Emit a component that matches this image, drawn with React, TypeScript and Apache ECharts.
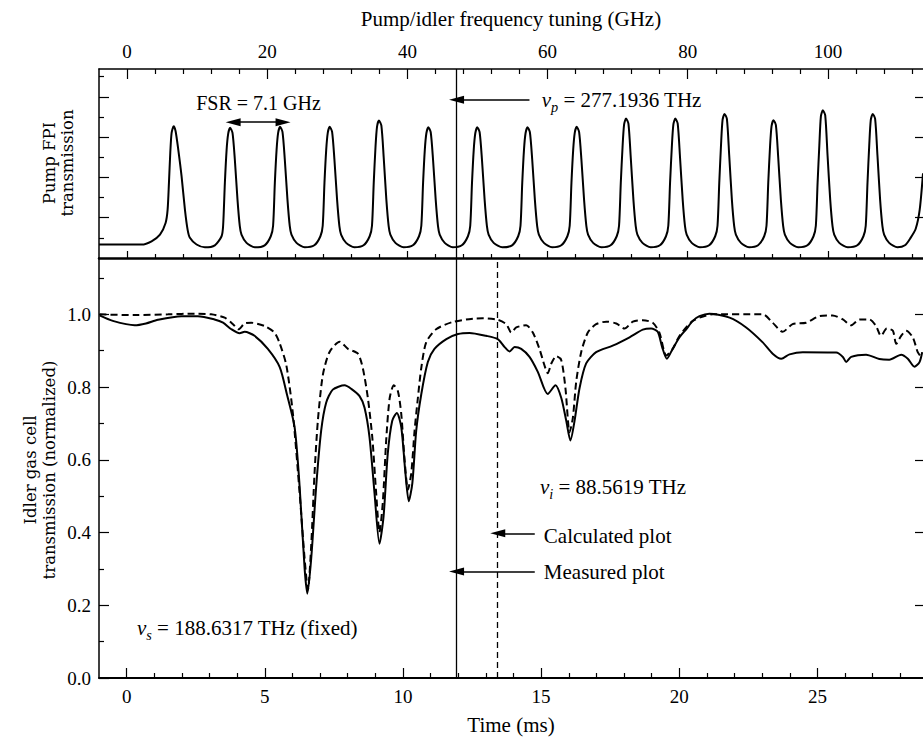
import React, { useEffect, useRef } from "react";
import * as echarts from "echarts";

// ---------- axis ranges & ticks ----------
const ghzRange = [-4, 113.57];
const msRange = [-1, 28.82];
const topYRange = [0, 0.938];
const botYRange = [0, 1.155];

const ghzMajorTicks = [0, 20, 40, 60, 80, 100];
const ghzMinorTicks = [4, 8, 12, 16, 24, 28, 32, 36, 44, 48, 52, 56, 64, 68, 72, 76, 84, 88, 92, 96, 104, 108, 112];
const msMajorTicks = [0, 5, 10, 15, 20, 25];
const msMinorTicks = [1, 2, 3, 4, 6, 7, 8, 9, 11, 12, 13, 14, 16, 17, 18, 19, 21, 22, 23, 24, 26, 27, 28];
const topYMajorTicks = [0.2, 0.4, 0.6, 0.8];
const topYMinorTicks = [0.1, 0.3, 0.5, 0.7, 0.9];
const botYMajorTicks = [0, 0.2, 0.4, 0.6, 0.8, 1.0];
const botYMinorTicks = [0.1, 0.3, 0.5, 0.7, 0.9, 1.1];

// ---------- data ----------
// Pump FPI transmission vs frequency tuning (GHz)
const pumpFpi: [number, number][] = [
  [-4, 0.067], [2.1, 0.067], [3.5, 0.083], [4.7, 0.116], [5.5, 0.174], [5.79, 0.24], [5.98, 0.373], [6.17, 0.522], [6.36, 0.621], [6.65, 0.654], [6.93, 0.629], [7.31, 0.538], [7.78, 0.406], [8.26, 0.24], [8.64, 0.141], [8.97, 0.1], [9.92, 0.067], [11.11, 0.053], [12.53, 0.063], [13.49, 0.108],
  [13.71, 0.16], [13.96, 0.373], [14.21, 0.538], [14.43, 0.616], [14.71, 0.646], [15.05, 0.621], [15.38, 0.489], [15.76, 0.29], [16.09, 0.158], [16.33, 0.116], [17.05, 0.075], [18.23, 0.053], [19.64, 0.063], [20.51, 0.108],
  [20.84, 0.16], [21.09, 0.373], [21.34, 0.538], [21.56, 0.621], [21.84, 0.651], [22.18, 0.626], [22.51, 0.489], [22.89, 0.29], [23.22, 0.158], [23.46, 0.116], [24.18, 0.075], [25.36, 0.053], [26.72, 0.063], [27.59, 0.108],
  [27.92, 0.16], [28.17, 0.373], [28.42, 0.538], [28.64, 0.621], [28.92, 0.651], [29.26, 0.626], [29.59, 0.489], [29.97, 0.29], [30.3, 0.158], [30.54, 0.116], [31.26, 0.075], [32.44, 0.053], [33.75, 0.063], [34.62, 0.108],
  [34.95, 0.16], [35.2, 0.373], [35.45, 0.55], [35.67, 0.652], [35.95, 0.682], [36.29, 0.657], [36.62, 0.5], [37.0, 0.29], [37.33, 0.158], [37.57, 0.116], [38.29, 0.075], [39.47, 0.053], [40.79, 0.063], [41.66, 0.108],
  [41.99, 0.16], [42.24, 0.373], [42.49, 0.538], [42.71, 0.619], [42.99, 0.649], [43.33, 0.624], [43.66, 0.489], [44.04, 0.29], [44.37, 0.158], [44.61, 0.116], [45.33, 0.075], [46.48, 0.053], [47.77, 0.063], [48.64, 0.108],
  [48.97, 0.16], [49.22, 0.373], [49.47, 0.538], [49.69, 0.619], [49.97, 0.649], [50.31, 0.624], [50.64, 0.489], [51.02, 0.29], [51.35, 0.158], [51.59, 0.116], [52.31, 0.075], [53.55, 0.053], [54.94, 0.063], [55.81, 0.108],
  [56.14, 0.16], [56.39, 0.373], [56.64, 0.538], [56.86, 0.619], [57.14, 0.649], [57.48, 0.624], [57.81, 0.489], [58.19, 0.29], [58.52, 0.158], [58.76, 0.116], [59.48, 0.075], [60.65, 0.053], [61.96, 0.063], [62.83, 0.108],
  [63.16, 0.16], [63.41, 0.373], [63.66, 0.538], [63.88, 0.621], [64.16, 0.651], [64.5, 0.626], [64.83, 0.489], [65.21, 0.29], [65.54, 0.158], [65.78, 0.116], [66.5, 0.075], [67.68, 0.053], [69.0, 0.063], [69.87, 0.108],
  [70.2, 0.16], [70.45, 0.373], [70.7, 0.55], [70.92, 0.662], [71.2, 0.692], [71.54, 0.667], [71.87, 0.5], [72.25, 0.29], [72.58, 0.158], [72.82, 0.116], [73.54, 0.075], [74.72, 0.053], [76.03, 0.063], [76.9, 0.108],
  [77.23, 0.16], [77.48, 0.373], [77.73, 0.55], [77.95, 0.662], [78.23, 0.692], [78.57, 0.667], [78.9, 0.5], [79.28, 0.29], [79.61, 0.158], [79.85, 0.116], [80.57, 0.075], [81.74, 0.053], [83.05, 0.063], [83.92, 0.108],
  [84.25, 0.16], [84.5, 0.373], [84.75, 0.56], [84.97, 0.685], [85.25, 0.715], [85.59, 0.69], [85.92, 0.51], [86.3, 0.29], [86.63, 0.158], [86.87, 0.116], [87.59, 0.075], [88.75, 0.053], [90.04, 0.063], [90.91, 0.108],
  [91.24, 0.16], [91.49, 0.373], [91.74, 0.55], [91.96, 0.654], [92.24, 0.684], [92.58, 0.659], [92.91, 0.5], [93.29, 0.29], [93.62, 0.158], [93.86, 0.116], [94.58, 0.075], [95.76, 0.053], [97.08, 0.063], [97.95, 0.108],
  [98.28, 0.16], [98.53, 0.373], [98.78, 0.56], [99.0, 0.703], [99.28, 0.733], [99.62, 0.708], [99.95, 0.51], [100.33, 0.29], [100.66, 0.158], [100.9, 0.116], [101.62, 0.075], [102.84, 0.053], [104.2, 0.063], [105.07, 0.108],
  [105.4, 0.16], [105.65, 0.373], [105.9, 0.56], [106.12, 0.685], [106.4, 0.715], [106.74, 0.69], [107.07, 0.51], [107.45, 0.29], [107.78, 0.158], [108.02, 0.116], [108.74, 0.075], [109.93, 0.053], [111.0, 0.063], [111.8, 0.1], [112.53, 0.145], [113.1, 0.24], [113.57, 0.42],
];

// Idler gas cell transmission vs time (ms)
const measuredPlot: [number, number][] = [
  [-0.98, 0.997], [-0.5, 0.982], [0.29, 0.97], [0.7, 0.975], [1.13, 0.985], [1.98, 0.995], [2.58, 0.995], [3.18, 0.986], [3.49, 0.977], [3.79, 0.959], [4.09, 0.948], [4.27, 0.952], [4.63, 0.941], [5.11, 0.905], [5.54, 0.855], [5.8, 0.78],
  [6.08, 0.689], [6.26, 0.527], [6.44, 0.302], [6.54, 0.232], [6.68, 0.329], [6.86, 0.527], [7.04, 0.68], [7.22, 0.757], [7.46, 0.793], [7.89, 0.805], [8.13, 0.795], [8.43, 0.775], [8.61, 0.743], [8.79, 0.662], [8.97, 0.509],
  [9.15, 0.369], [9.3, 0.446], [9.45, 0.617], [9.61, 0.707], [9.78, 0.729], [9.94, 0.689], [10.09, 0.563], [10.21, 0.486], [10.34, 0.536], [10.48, 0.68], [10.66, 0.779], [10.9, 0.869], [11.14, 0.905], [11.57, 0.932], [11.99, 0.946],
  [12.41, 0.949], [13.01, 0.941], [13.43, 0.932], [13.68, 0.91], [13.86, 0.898], [14.04, 0.91], [14.28, 0.905], [14.58, 0.883], [14.88, 0.842], [15.24, 0.781], [15.52, 0.805], [15.73, 0.77], [15.91, 0.707], [16.06, 0.653],
  [16.21, 0.707], [16.39, 0.797], [16.63, 0.865], [16.99, 0.896], [17.59, 0.914], [18.2, 0.937], [18.68, 0.958], [18.98, 0.961], [19.22, 0.952], [19.38, 0.91], [19.55, 0.878], [19.76, 0.905], [20.01, 0.937], [20.25, 0.959],
  [20.49, 0.982], [20.73, 0.995], [21.09, 1.002], [21.82, 0.991], [22.42, 0.964], [23.02, 0.923], [23.38, 0.892], [23.69, 0.878], [23.99, 0.89], [24.47, 0.896], [25.68, 0.895], [25.92, 0.883], [26.04, 0.869], [26.22, 0.883],
  [26.76, 0.889], [27.24, 0.877], [27.6, 0.875], [28.03, 0.889], [28.27, 0.878], [28.51, 0.856], [28.69, 0.868], [28.79, 0.896],
];

const calculatedPlot: [number, number][] = [
  [-0.98, 1.0], [0.29, 0.998], [1.5, 1.0], [2.46, 1.002], [3.06, 1.0], [3.55, 0.991], [3.85, 0.973], [4.05, 0.959], [4.27, 0.975], [4.51, 0.977], [4.99, 0.968], [5.35, 0.95], [5.54, 0.92], [5.78, 0.86],
  [6.02, 0.725], [6.26, 0.509], [6.44, 0.329], [6.56, 0.243], [6.68, 0.365], [6.8, 0.563], [6.92, 0.707], [7.1, 0.833], [7.34, 0.896], [7.71, 0.925], [8.01, 0.905], [8.37, 0.892], [8.55, 0.851], [8.73, 0.77], [8.89, 0.662],
  [9.03, 0.509], [9.15, 0.401], [9.27, 0.482], [9.4, 0.662], [9.52, 0.77], [9.67, 0.805], [9.82, 0.788], [9.94, 0.725], [10.06, 0.599], [10.18, 0.518], [10.3, 0.563], [10.42, 0.68], [10.54, 0.77], [10.66, 0.851], [10.84, 0.923],
  [11.2, 0.959], [11.8, 0.979], [12.53, 0.988], [12.89, 0.989], [13.43, 0.985], [13.74, 0.973], [13.92, 0.95], [14.1, 0.964], [14.46, 0.97], [14.7, 0.95], [14.94, 0.905], [15.12, 0.86], [15.24, 0.838], [15.37, 0.865],
  [15.55, 0.885], [15.73, 0.874], [15.88, 0.797], [16.03, 0.676], [16.15, 0.716], [16.27, 0.815], [16.45, 0.896], [16.69, 0.95], [16.99, 0.973], [17.36, 0.98], [17.72, 0.975], [18.02, 0.961], [18.32, 0.98], [18.68, 0.984],
  [19.04, 0.977], [19.28, 0.95], [19.53, 0.887], [19.76, 0.905], [20.01, 0.941], [20.49, 0.982], [21.21, 1.0], [23.02, 1.0], [23.38, 0.977], [23.74, 0.952], [24.1, 0.973], [24.59, 0.977], [25.07, 0.995], [25.55, 0.997],
  [25.92, 0.986], [26.22, 0.97], [26.52, 0.986], [26.88, 0.986], [27.12, 0.968], [27.3, 0.941], [27.51, 0.961], [27.73, 0.955], [27.85, 0.919], [28.03, 0.941], [28.21, 0.955], [28.45, 0.937], [28.63, 0.896], [28.75, 0.883],
];

// reference lines / annotations (data coordinates)
const pumpLineGhz = 47.02;
const measuredLineMs = 11.94;
const calculatedLineMs = 13.43;
const fsrArrow = [15.14, 22.26, 0.674];
const fsrText = [18.76, 0.769];
const pumpArrow = [57.42, 0.786];
const pumpText = [59.09, 0.786];
const idlerText = [14.94, 0.526];
const signalText = [0.355, 0.138];
const calcArrow = [14.77, 0.398];
const calcText = [15.08, 0.39];
const measArrow = [14.77, 0.293];
const measText = [15.08, 0.291];

const SERIF = '"Liberation Serif", "Times New Roman", serif';
const BLACK = "#000";

function nuRich(size: number) {
  return {
    n: { fontFamily: SERIF, fontStyle: "italic", fontSize: size, color: BLACK },
    s: { fontFamily: SERIF, fontStyle: "italic", fontSize: size * 0.68, color: BLACK, padding: [15, 0, 0, 0] },
    t: { fontFamily: SERIF, fontSize: size, color: BLACK },
  };
}

function textPoint(coord: number[], text: string, position: any, size = 20) {
  return {
    coord,
    symbol: "circle",
    symbolSize: 1,
    itemStyle: { color: "rgba(0,0,0,0)" },
    label: {
      show: true,
      position,
      distance: 0,
      formatter: text,
      color: BLACK,
      fontFamily: SERIF,
      fontSize: size,
      rich: nuRich(size),
    },
  };
}

const arrowHead = { symbol: "triangle", symbolSize: [8, 15] };

export default function App() {
  const ref = useRef<HTMLDivElement>(null);

  useEffect(() => {
    if (!ref.current) return;
    const chart = echarts.init(ref.current, null, { renderer: "svg" });

    const tickStyle = { color: BLACK, width: 1.2 };
    const baseAxis = {
      type: "value",
      splitLine: { show: false },
      axisLine: { show: false, onZero: false },
      axisLabel: { show: false },
    };

    const option: any = {
      animation: false,
      backgroundColor: "#fff",
      grid: [
        { left: 99, top: 69, width: 825, height: 189 },
        { left: 99, top: 258, width: 825, height: 426 },
      ],
      xAxis: [
        {
          ...baseAxis, gridIndex: 0, position: "top", min: ghzRange[0], max: ghzRange[1],
          axisLine: { show: true, onZero: false, lineStyle: { color: BLACK, width: 1.5 } },
          axisTick: { show: true, inside: true, length: 10, customValues: ghzMajorTicks, lineStyle: tickStyle },
          axisLabel: { show: true, customValues: ghzMajorTicks, color: BLACK, fontFamily: SERIF, fontSize: 19, margin: 8 },
          name: "Pump/idler frequency tuning (GHz)", nameLocation: "middle", nameGap: 40,
          nameTextStyle: { color: BLACK, fontFamily: SERIF, fontSize: 21 },
        },
        {
          ...baseAxis, gridIndex: 0, position: "top", min: ghzRange[0], max: ghzRange[1],
          axisTick: { show: true, inside: true, length: 5, customValues: ghzMinorTicks, lineStyle: tickStyle },
        },
        {
          ...baseAxis, gridIndex: 0, position: "bottom", min: ghzRange[0], max: ghzRange[1],
          axisLine: { show: true, onZero: false, lineStyle: { color: BLACK, width: 2.5 } },
          axisTick: { show: true, inside: true, length: 7, customValues: ghzMajorTicks, lineStyle: tickStyle },
        },
        {
          ...baseAxis, gridIndex: 0, position: "bottom", min: ghzRange[0], max: ghzRange[1],
          axisTick: { show: true, inside: true, length: 4, customValues: ghzMinorTicks, lineStyle: tickStyle },
        },
        {
          ...baseAxis, gridIndex: 1, position: "bottom", min: msRange[0], max: msRange[1],
          axisLine: { show: true, onZero: false, lineStyle: { color: BLACK, width: 2 } },
          axisTick: { show: true, inside: true, length: 10, customValues: msMajorTicks, lineStyle: tickStyle },
          axisLabel: { show: true, customValues: msMajorTicks, color: BLACK, fontFamily: SERIF, fontSize: 19, margin: 9 },
          name: "Time (ms)", nameLocation: "middle", nameGap: 36,
          nameTextStyle: { color: BLACK, fontFamily: SERIF, fontSize: 21 },
        },
        {
          ...baseAxis, gridIndex: 1, position: "bottom", min: msRange[0], max: msRange[1],
          axisTick: { show: true, inside: true, length: 5, customValues: msMinorTicks, lineStyle: tickStyle },
        },
      ],
      yAxis: [
        {
          ...baseAxis, gridIndex: 0, position: "left", min: topYRange[0], max: topYRange[1],
          axisLine: { show: true, onZero: false, lineStyle: { color: BLACK, width: 1.5 } },
          axisTick: { show: true, inside: true, length: 10, customValues: topYMajorTicks, lineStyle: tickStyle },
        },
        {
          ...baseAxis, gridIndex: 0, position: "left", min: topYRange[0], max: topYRange[1],
          axisTick: { show: true, inside: true, length: 5, customValues: topYMinorTicks, lineStyle: tickStyle },
        },
        {
          ...baseAxis, gridIndex: 0, position: "right", min: topYRange[0], max: topYRange[1],
          axisTick: { show: true, inside: true, length: 8, customValues: topYMajorTicks, lineStyle: tickStyle },
        },
        {
          ...baseAxis, gridIndex: 1, position: "left", min: botYRange[0], max: botYRange[1],
          axisLine: { show: true, onZero: false, lineStyle: { color: BLACK, width: 1.5 } },
          axisTick: { show: true, inside: true, length: 10, customValues: botYMajorTicks, lineStyle: tickStyle },
          axisLabel: {
            show: true, customValues: botYMajorTicks, color: BLACK, fontFamily: SERIF, fontSize: 19, margin: 8,
            formatter: (v: number) => v.toFixed(1),
          },
        },
        {
          ...baseAxis, gridIndex: 1, position: "left", min: botYRange[0], max: botYRange[1],
          axisTick: { show: true, inside: true, length: 5, customValues: botYMinorTicks, lineStyle: tickStyle },
        },
        {
          ...baseAxis, gridIndex: 1, position: "right", min: botYRange[0], max: botYRange[1],
          axisTick: { show: true, inside: true, length: 8, customValues: botYMajorTicks.slice(1), lineStyle: tickStyle },
        },
      ],
      graphic: [
        {
          type: "text", x: 58, y: 163, rotation: Math.PI / 2,
          style: {
            text: "Pump FPI\ntransmission", fill: BLACK, align: "center", verticalAlign: "middle",
            fontFamily: '"DejaVu Serif", serif', fontSize: 16.5, lineHeight: 18,
          },
        },
        {
          type: "text", x: 40, y: 470, rotation: Math.PI / 2,
          style: {
            text: "Idler gas cell\ntransmission (normalized)", fill: BLACK, align: "center", verticalAlign: "middle",
            fontFamily: '"DejaVu Serif", serif', fontSize: 16.5, lineHeight: 19,
          },
        },
      ],
      series: [
        {
          type: "line", name: "Pump FPI", xAxisIndex: 0, yAxisIndex: 0, data: pumpFpi,
          showSymbol: false, symbol: "none", smooth: 0.25,
          lineStyle: { color: BLACK, width: 2 }, silent: true,
          markLine: {
            silent: true, symbol: ["none", "none"], label: { show: false }, emphasis: { disabled: true },
            data: [
              { xAxis: pumpLineGhz, lineStyle: { color: BLACK, width: 1.3, type: "solid" } },
              [
                { coord: [fsrArrow[0], fsrArrow[2]], ...arrowHead, lineStyle: { color: BLACK, width: 1.5, type: "solid" } },
                { coord: [fsrArrow[1], fsrArrow[2]], ...arrowHead },
              ],
              [
                { coord: pumpArrow, symbol: "none", lineStyle: { color: BLACK, width: 1.5, type: "solid" } },
                { coord: [pumpLineGhz, pumpArrow[1]], ...arrowHead },
              ],
            ],
          },
          markPoint: {
            silent: true,
            data: [
              textPoint(fsrText, "FSR = 7.1 GHz", "inside", 20),
              textPoint(pumpText, "{n|ν}{s|p}{t| = 277.1936 THz}", "right", 21),
            ],
          },
        },
        {
          type: "line", name: "Measured plot", xAxisIndex: 4, yAxisIndex: 3, data: measuredPlot,
          showSymbol: false, symbol: "none", smooth: 0.25,
          lineStyle: { color: BLACK, width: 2 }, silent: true,
          markLine: {
            silent: true, symbol: ["none", "none"], label: { show: false }, emphasis: { disabled: true },
            data: [
              { xAxis: measuredLineMs, lineStyle: { color: BLACK, width: 1.3, type: "solid" } },
              [
                { coord: measArrow, symbol: "none", lineStyle: { color: BLACK, width: 1.5, type: "solid" } },
                { coord: [measuredLineMs, measArrow[1]], ...arrowHead },
              ],
            ],
          },
          markPoint: {
            silent: true,
            data: [
              textPoint(idlerText, "{n|ν}{s|i}{t| = 88.5619 THz}", "right", 21),
              textPoint(measText, "Measured plot", "right", 21),
              textPoint(signalText, "{n|ν}{s|s}{t| = 188.6317 THz (fixed)}", "right", 21),
            ],
          },
        },
        {
          type: "line", name: "Calculated plot", xAxisIndex: 4, yAxisIndex: 3, data: calculatedPlot,
          showSymbol: false, symbol: "none", smooth: 0.25,
          lineStyle: { color: BLACK, width: 2, type: [7, 4] }, silent: true,
          markLine: {
            silent: true, symbol: ["none", "none"], label: { show: false }, emphasis: { disabled: true },
            data: [
              { xAxis: calculatedLineMs, lineStyle: { color: BLACK, width: 1.3, type: [6, 4] } },
              [
                { coord: calcArrow, symbol: "none", lineStyle: { color: BLACK, width: 1.5, type: "solid" } },
                { coord: [calculatedLineMs, calcArrow[1]], ...arrowHead },
              ],
            ],
          },
          markPoint: {
            silent: true,
            data: [textPoint(calcText, "Calculated plot", "right", 21)],
          },
        },
      ],
    };

    chart.setOption(option);
    return () => chart.dispose();
  }, []);

  return (
    <div
      ref={ref}
      style={{ position: "absolute", left: 0, top: 0, width: 923, height: 740, background: "#fff" }}
    />
  );
}
